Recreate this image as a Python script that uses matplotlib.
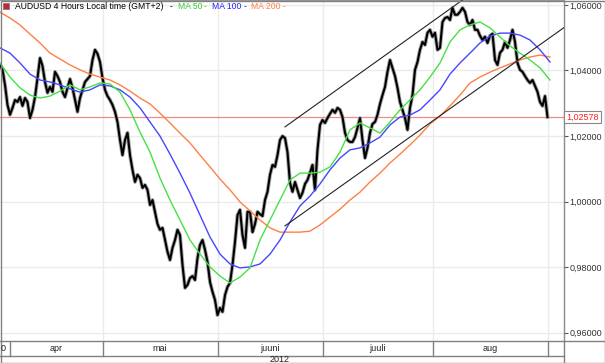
import matplotlib.pyplot as plt
from matplotlib.lines import Line2D
from matplotlib.patches import Rectangle
import numpy as np

plt.rcParams['font.family'] = ['Liberation Sans', 'DejaVu Sans']

# AUDUSD closes, one value per half trading day (mid March - end Aug 2012)
close = [
    1.0417, 1.0402, 1.0356, 1.0295, 1.0265, 1.0286, 1.0310, 1.0304, 1.0319, 1.0292,
    1.0316, 1.0304, 1.0255, 1.0280, 1.0319, 1.0377, 1.0438, 1.0414, 1.0365, 1.0332,
    1.0350, 1.0335, 1.0396, 1.0383, 1.0365, 1.0335, 1.0319, 1.0347, 1.0374, 1.0347,
    1.0310, 1.0274, 1.0316, 1.0341, 1.0365, 1.0374, 1.0383, 1.0432, 1.0463, 1.0451,
    1.0426, 1.0377, 1.0341, 1.0322, 1.0310, 1.0295, 1.0274, 1.0243, 1.0188, 1.0142,
    1.0188, 1.0210, 1.0142, 1.0097, 1.0060, 1.0082, 1.0072, 1.0042, 1.0051, 1.0036,
    0.9990, 1.0005, 0.9969, 0.9932, 0.9914, 0.9920, 0.9883, 0.9847, 0.9822, 0.9859,
    0.9883, 0.9914, 0.9898, 0.9807, 0.9737, 0.9746, 0.9767, 0.9773, 0.9761, 0.9828,
    0.9868, 0.9883, 0.9853, 0.9816, 0.9755, 0.9725, 0.9700, 0.9654, 0.9676, 0.9664,
    0.9715, 0.9740, 0.9752, 0.9807, 0.9877, 0.9959, 0.9975, 0.9898, 0.9859, 0.9969,
    0.9969, 0.9907, 0.9932, 0.9969, 0.9962, 0.9956, 1.0005, 1.0030, 1.0082, 1.0112,
    1.0106, 1.0142, 1.0188, 1.0200, 1.0194, 1.0151, 1.0057, 1.0030, 1.0060, 1.0036,
    1.0011, 1.0027, 1.0054, 1.0066, 1.0088, 1.0112, 1.0036, 1.0158, 1.0234, 1.0249,
    1.0240, 1.0255, 1.0268, 1.0280, 1.0271, 1.0286, 1.0280, 1.0258, 1.0210, 1.0188,
    1.0182, 1.0182, 1.0197, 1.0225, 1.0255, 1.0188, 1.0133, 1.0164, 1.0210, 1.0237,
    1.0243, 1.0265, 1.0298, 1.0325, 1.0350, 1.0396, 1.0432, 1.0408, 1.0383, 1.0347,
    1.0304, 1.0280, 1.0255, 1.0219, 1.0286, 1.0325, 1.0402, 1.0426, 1.0463, 1.0487,
    1.0478, 1.0515, 1.0524, 1.0503, 1.0515, 1.0463, 1.0469, 1.0548, 1.0560, 1.0563,
    1.0554, 1.0591, 1.0570, 1.0570, 1.0579, 1.0591, 1.0579, 1.0548, 1.0539, 1.0554,
    1.0524, 1.0524, 1.0506, 1.0493, 1.0503, 1.0484, 1.0506, 1.0512, 1.0432, 1.0417,
    1.0454, 1.0463, 1.0487, 1.0469, 1.0493, 1.0524, 1.0487, 1.0423, 1.0402, 1.0396,
    1.0383, 1.0371, 1.0362, 1.0371, 1.0353, 1.0335, 1.0304, 1.0292, 1.0322, 1.0258,
]

# moving averages, read every 4 samples
ma_step = 4
ma50 = [
    1.0423, 1.0380, 1.0347, 1.0325, 1.0316, 1.0322, 1.0337, 1.0356, 1.0341, 1.0350,
    1.0362, 1.0359, 1.0334, 1.0280, 1.0212, 1.0151, 1.0072, 1.0005, 0.9944, 0.9883,
    0.9840, 0.9801, 0.9773, 0.9752, 0.9770, 0.9798, 0.9883, 0.9944, 1.0005, 1.0066,
    1.0087, 1.0087, 1.0090, 1.0106, 1.0151, 1.0219, 1.0240, 1.0225, 1.0209, 1.0243,
    1.0280, 1.0310, 1.0341, 1.0380, 1.0423, 1.0487, 1.0524, 1.0539, 1.0548, 1.0530,
    1.0502, 1.0475, 1.0453, 1.0432, 1.0408, 1.0371,
]
ma100 = [
    1.0469, 1.0453, 1.0423, 1.0389, 1.0371, 1.0365, 1.0356, 1.0344, 1.0334, 1.0341,
    1.0356, 1.0353, 1.0341, 1.0319, 1.0286, 1.0243, 1.0200, 1.0145, 1.0087, 1.0026,
    0.9959, 0.9892, 0.9840, 0.9810, 0.9798, 0.9801, 0.9810, 0.9840, 0.9883, 0.9938,
    0.9987, 1.0017, 1.0054, 1.0097, 1.0133, 1.0158, 1.0164, 1.0179, 1.0197, 1.0234,
    1.0258, 1.0264, 1.0280, 1.0310, 1.0341, 1.0389, 1.0423, 1.0453, 1.0484, 1.0505,
    1.0514, 1.0514, 1.0508, 1.0493, 1.0463, 1.0426,
]
ma200 = [
    1.0578, 1.0560, 1.0539, 1.0511, 1.0484, 1.0453, 1.0435, 1.0417, 1.0402, 1.0389,
    1.0380, 1.0371, 1.0356, 1.0337, 1.0316, 1.0298, 1.0270, 1.0240, 1.0209, 1.0179,
    1.0142, 1.0106, 1.0069, 1.0036, 0.9999, 0.9972, 0.9944, 0.9920, 0.9907, 0.9907,
    0.9907, 0.9910, 0.9929, 0.9953, 0.9977, 1.0005, 1.0029, 1.0060, 1.0087, 1.0118,
    1.0145, 1.0173, 1.0203, 1.0237, 1.0261, 1.0292, 1.0325, 1.0362, 1.0380, 1.0395,
    1.0408, 1.0420, 1.0432, 1.0441, 1.0447, 1.0441,
]

# trend channel (sample index, price)
channel_upper = [(114, 1.0228), (185, 1.0615)]
channel_lower = [(114, 0.9926), (226, 1.0533)]

last_price = 1.02578
month_starts = [4, 41, 87, 129, 173, 219]
month_labels = ['apr', 'mai', 'juuni', 'juuli', 'aug']
price_ticks = [0.96, 0.98, 1.00, 1.02, 1.04, 1.06]

W, H = 605, 363
fig = plt.figure(figsize=(W / 100, H / 100), dpi=100)
fig.patch.set_facecolor('white')

ax = fig.add_axes([0, 22 / H, 564 / W, 341 / H])
xmax = 225.6
ax.set_xlim(0, xmax)
ax.set_ylim(0.9575, 1.0615)

for p in price_ticks:
    ax.axhline(p, color='#ebebeb', lw=1, zorder=0)
for m in month_starts[1:]:
    ax.axvline(m, color='#ebebeb', lw=1, zorder=0)

ax.axhline(last_price, color='#f08a8a', lw=0.9, zorder=1)

t = np.arange(len(close))
ax.plot(t, close, color='#a8a8a8', lw=2.8, zorder=2)
ax.plot(t, close, color='black', lw=1.5, zorder=3)

tm = np.arange(len(ma50)) * ma_step
ax.plot(tm, ma200, color='#ff7f45', lw=1, zorder=4)
ax.plot(tm, ma100, color='#4646ff', lw=1, zorder=4)
ax.plot(tm, ma50, color='#46e046', lw=1, zorder=4)

for line in (channel_upper, channel_lower):
    xs, ys = zip(*line)
    ax.plot(xs, ys, color='#222222', lw=0.8, zorder=5)

ax.set_xticks([])
ax.yaxis.tick_right()
ax.set_yticks(price_ticks)
ax.set_yticklabels([f'{p:.5f}'.replace('.', ',') for p in price_ticks])
ax.tick_params(axis='y', direction='out', length=3, width=0.8, colors='#555555',
               labelsize=6.5, labelcolor='#333333', pad=1)
for s in ('left', 'bottom'):
    ax.spines[s].set_visible(False)
ax.spines['top'].set_color('#9a9a9a')
ax.spines['right'].set_color('#8a8a8a')
ax.spines['right'].set_linestyle((0, (1, 1)))
ax.spines['right'].set_linewidth(1)

ax.text(1.004, last_price, f'{last_price:.5f}'.replace('.', ','), transform=ax.get_yaxis_transform(),
        color='#ff2020', fontsize=6.5, va='center', ha='left',
        bbox=dict(boxstyle='square,pad=0.2', fc='white', ec='#888888', lw=0.8))

# title line
ov = fig.add_axes([0, 0, 1, 1], facecolor='none')
ov.set_xlim(0, W)
ov.set_ylim(H, 0)
ov.axis('off')
ov.add_patch(Rectangle((3, 3), 6, 6, fc='#c0282d', ec='#777777', lw=0.5))
pieces = [(15, 'AUDUSD 4 Hours Local time (GMT+2)', 'black'), (170, '-', 'black'),
          (178, 'MA 50', '#33cc33'), (204, '-', '#33cc33'),
          (212, 'MA 100', '#2222ff'), (244, '-', '#2222ff'),
          (251, 'MA 200', '#ff7f45'), (283, '-', '#ff7f45')]
for x0, s, c in pieces:
    ov.text(x0, 6.5, s, color=c, fontsize=6.2, va='center', ha='left')

# time axis rows
ov.add_artist(Line2D([0, W], [341, 341], color='#808080', lw=1))
ov.add_artist(Line2D([0, 564], [356, 356], color='#808080', lw=1))
ov.add_artist(Line2D([564, 564], [341, H], color='#808080', lw=1))
ov.add_patch(Rectangle((0.5, 0.5), W - 1, H - 1, fc='none', ec='#808080', lw=1))

axb = fig.add_axes([0, 0, 564 / W, 22 / H], facecolor='none')
axb.set_xlim(0, xmax)
axb.set_ylim(0, 22)
axb.axis('off')
for m in month_starts:
    axb.plot([m, m], [7, 22], color='#808080', lw=1)
for a, b, lab in zip(month_starts[:-1], month_starts[1:], month_labels):
    axb.text((a + b) / 2, 14.5, lab, fontsize=6.5, ha='center', va='center', color='#222222')
axb.text(0.3, 14.5, '0', fontsize=6.5, ha='left', va='center', color='#222222')
axb.text(112, 3.5, '2012', fontsize=6.5, ha='center', va='center', color='#222222')

fig.savefig('out.png', dpi=100)
